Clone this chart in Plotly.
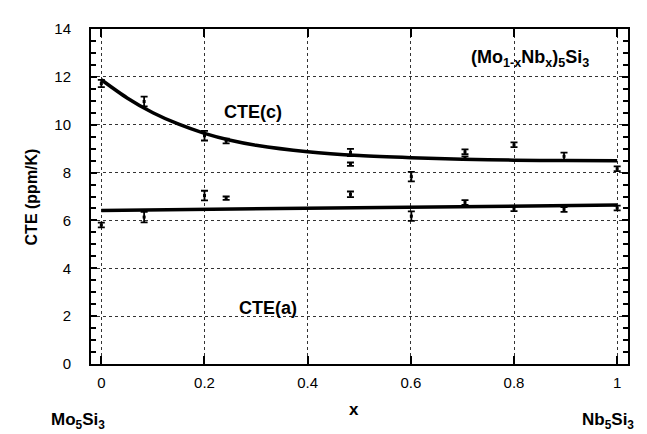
import plotly.graph_objects as go

# CTE(c) measured points
x_c = [0.0, 0.083, 0.2, 0.242, 0.483, 0.483, 0.601, 0.705, 0.705, 0.8, 0.897, 1.0]
cte_c = [11.72, 10.97, 9.54, 9.32, 8.84, 8.35, 7.83, 8.87, 8.60, 9.16, 8.68, 8.16]
err_c = [0.15, 0.2, 0.2, 0.1, 0.15, 0.07, 0.2, 0.1, 0.08, 0.1, 0.15, 0.1]

# CTE(a) measured points
x_a = [0.0, 0.083, 0.2, 0.242, 0.483, 0.601, 0.705, 0.8, 0.897, 1.0]
cte_a = [5.81, 6.14, 7.04, 6.93, 7.09, 6.18, 6.75, 6.49, 6.46, 6.52]
err_a = [0.1, 0.22, 0.2, 0.07, 0.12, 0.2, 0.1, 0.1, 0.1, 0.1]

# fitted curves
fit_c_x = [0.0, 0.05, 0.1, 0.15, 0.2, 0.25, 0.3, 0.4, 0.5, 0.6, 0.7, 0.8, 0.9, 1.0]
fit_c = [11.88, 11.12, 10.50, 10.02, 9.64, 9.35, 9.14, 8.87, 8.71, 8.62, 8.56, 8.52, 8.50, 8.49]
fit_a_x = [0.0, 0.5, 1.0]
fit_a = [6.42, 6.53, 6.64]

x_ticks = [0, 0.2, 0.4, 0.6, 0.8, 1]
x_tick_labels = ["0", "0.2", "0.4", "0.6", "0.8", "1"]
y_ticks = [0, 2, 4, 6, 8, 10, 12, 14]

FONT = "Liberation Sans, Arial, Helvetica, sans-serif"

fig = go.Figure()

fig.add_trace(go.Scatter(x=fit_c_x, y=fit_c, mode="lines",
                         line=dict(color="black", width=3.5, shape="spline", smoothing=0.8),
                         hoverinfo="skip", showlegend=False))
fig.add_trace(go.Scatter(x=fit_a_x, y=fit_a, mode="lines",
                         line=dict(color="black", width=3.5),
                         hoverinfo="skip", showlegend=False))

for xs, ys, es in [(x_c, cte_c, err_c), (x_a, cte_a, err_a)]:
    fig.add_trace(go.Scatter(
        x=xs, y=ys, mode="markers",
        marker=dict(color="black", size=3, symbol="square"),
        error_y=dict(type="data", array=es, visible=True, color="black",
                     thickness=1.8, width=3.5),
        showlegend=False))

grid = dict(showgrid=True, gridcolor="#333333", griddash="dot", gridwidth=1)

fig.update_xaxes(range=[-0.02, 1.021], tickvals=x_ticks, ticktext=x_tick_labels,
                 ticks="inside", ticklen=8, tickwidth=1.5, tickcolor="black",
                 showline=True, linecolor="black", linewidth=2, mirror="ticks",
                 zeroline=False, ticklabelstandoff=4,
                 tickfont=dict(family=FONT, size=15, color="black"), **grid)
fig.update_yaxes(range=[0, 14], tickvals=y_ticks,
                 ticks="inside", ticklen=6, tickwidth=1.5, tickcolor="black",
                 minor=dict(dtick=0.5, ticks="inside", ticklen=5, tickwidth=1.5,
                            tickcolor="black", showgrid=False),
                 showline=True, linecolor="black", linewidth=2, mirror="ticks",
                 zeroline=False, ticklabelstandoff=15,
                 tickfont=dict(family=FONT, size=15, color="black"), **grid)

bold = dict(family=FONT, color="black")
annots = [
    dict(x=0.295, y=10.54, xref="x", yref="y", text="<b>CTE(c)</b>",
         font=dict(size=18, **bold)),
    dict(x=0.324, y=2.35, xref="x", yref="y", text="<b>CTE(a)</b>",
         font=dict(size=18, **bold)),
    dict(x=0.713, y=12.75, xref="x", yref="y", xanchor="left",
         text="<b>(Mo<sub>1-x</sub>Nb<sub>x</sub>)<sub>5</sub>Si<sub>3</sub></b>",
         font=dict(size=18, **bold)),
    dict(x=0.49, y=-0.135, xref="x", yref="paper", yanchor="middle",
         text="<b>x</b>", font=dict(size=17, **bold)),
    dict(x=-0.025, y=-0.17, xref="paper", yref="paper", xanchor="center", yanchor="middle",
         text="<b>Mo<sub>5</sub>Si<sub>3</sub></b>", font=dict(size=17, **bold)),
    dict(x=1.015, y=-0.17, xref="paper", yref="paper", xanchor="right", yanchor="middle",
         text="<b>Nb<sub>5</sub>Si<sub>3</sub></b>", font=dict(size=17, **bold)),
    dict(x=-0.11, y=0.5, xref="paper", yref="paper", textangle=-90,
         xanchor="center", yanchor="middle",
         text="<b>CTE (ppm/K)</b>", font=dict(size=16, **bold)),
]
for a in annots:
    a.setdefault("showarrow", False)
    fig.add_annotation(**a)

fig.update_layout(width=647, height=434,
                  margin=dict(l=83, r=27, t=14, b=78),
                  plot_bgcolor="white", paper_bgcolor="white")

fig.write_html("out.html")
